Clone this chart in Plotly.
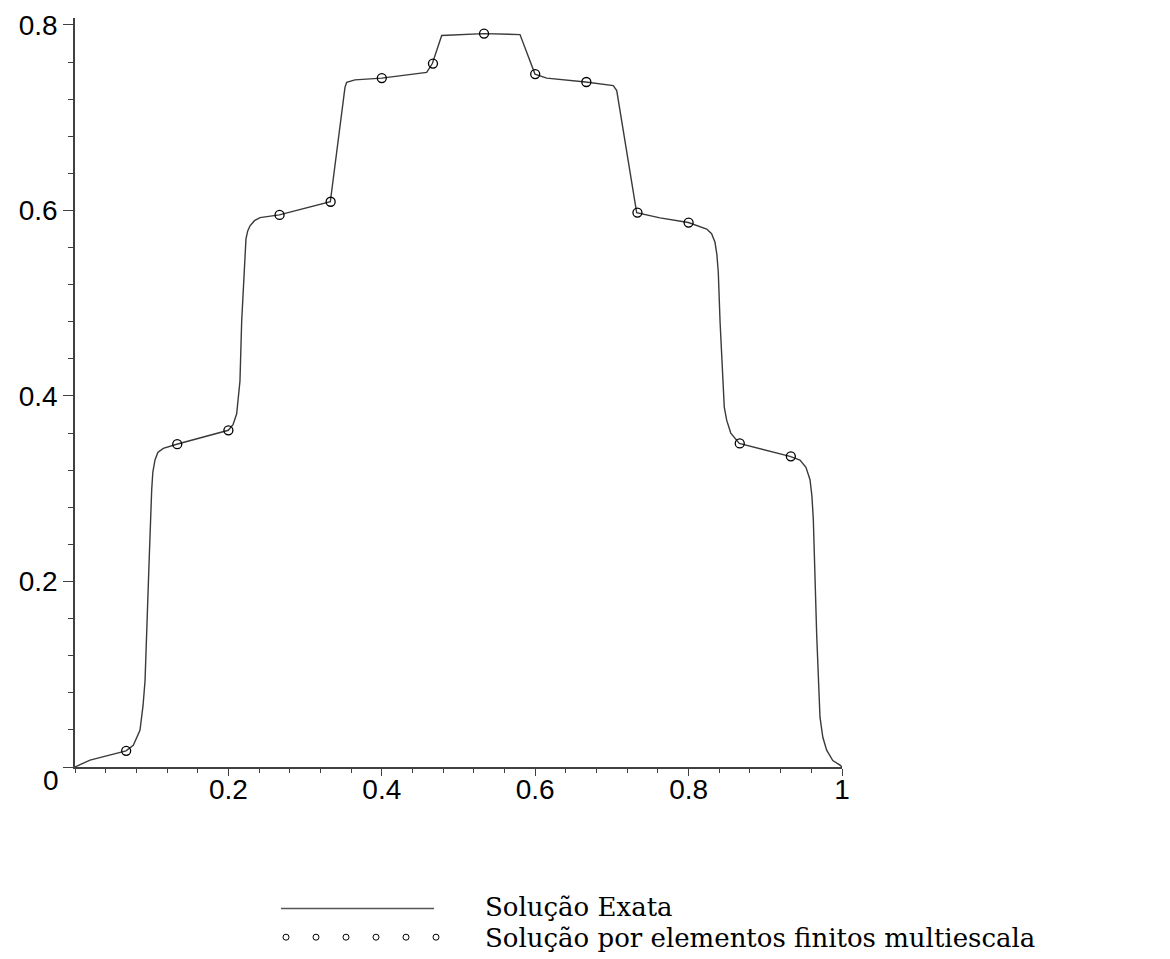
import plotly.graph_objects as go

# Exact solution, sampled along the curve
exact_x = [0.0, 0.0196, 0.0665, 0.076, 0.0847, 0.0887, 0.0913, 0.0935, 0.0969, 0.1000,
           0.1015, 0.1043, 0.108, 0.1151, 0.1326, 0.1999, 0.206, 0.2108, 0.2151, 0.2173,
           0.2229, 0.2252, 0.2282, 0.234, 0.2412, 0.2664, 0.3329, 0.352, 0.3542, 0.365,
           0.3999, 0.4585, 0.4659, 0.4781, 0.5329, 0.5802, 0.5997, 0.615, 0.6658, 0.7018,
           0.7063, 0.7323, 0.7627, 0.7997, 0.8236, 0.830, 0.8344, 0.8368, 0.8387, 0.841,
           0.8445, 0.8465, 0.8497, 0.855, 0.8661, 0.9322, 0.9452, 0.953, 0.9583, 0.9608,
           0.9626, 0.967, 0.9713, 0.975, 0.98, 0.988, 0.9974, 1.0]
exact_y = [0.0, 0.0075, 0.0174, 0.0235, 0.0395, 0.0661, 0.0928, 0.1568, 0.228, 0.299,
           0.318, 0.331, 0.339, 0.3435, 0.348, 0.363, 0.369, 0.3808, 0.4163, 0.4803,
           0.5693, 0.578, 0.5835, 0.589, 0.5923, 0.5952, 0.6094, 0.7328, 0.7381, 0.7408,
           0.7427, 0.7488, 0.7584, 0.7886, 0.7907, 0.7896, 0.747, 0.7427, 0.7385, 0.7346,
           0.7293, 0.5977, 0.592, 0.587, 0.58, 0.575, 0.5657, 0.553, 0.5337, 0.4803,
           0.4093, 0.388, 0.3737, 0.360, 0.3488, 0.3349, 0.331, 0.323, 0.3097, 0.292,
           0.267, 0.1426, 0.0537, 0.032, 0.0181, 0.007, 0.002, 0.0]

# Multiscale finite element solution at the mesh nodes
fem_x = [0.0667, 0.1333, 0.2, 0.2667, 0.3333, 0.4, 0.4667, 0.5333, 0.6, 0.6667,
         0.7333, 0.8, 0.8667, 0.9333]
fem_y = [0.0174, 0.348, 0.363, 0.5952, 0.6094, 0.7427, 0.7584, 0.7907, 0.747, 0.7385,
         0.5977, 0.587, 0.3488, 0.3349]

x_ticks = [0.2, 0.4, 0.6, 0.8, 1.0]
x_labels = ["0.2", "0.4", "0.6", "0.8", "1"]
y_ticks = [0.0, 0.2, 0.4, 0.6, 0.8]
y_labels = ["", "0.2", "0.4", "0.6", "0.8"]

legend_labels = ["Solução Exata", "Solução por elementos finitos multiescala"]

W, H = 1170, 959
ML, MT, PW, PH = 75, 10, 767, 757
AX = "#404040"
TICK_FONT = dict(family="Liberation Sans, Arial, sans-serif", size=28, color="black")
LEG_FONT = dict(family="DejaVu Serif, serif", size=26, color="black")


def paper_x(px):
    return (px - ML) / PW


def paper_y(py):
    return (MT + PH - py) / PH


fig = go.Figure()
fig.add_trace(go.Scatter(x=exact_x, y=exact_y, mode="lines",
                         line=dict(color="#3a3a3a", width=1.4),
                         name=legend_labels[0], showlegend=False))
fig.add_trace(go.Scatter(x=fem_x, y=fem_y, mode="markers",
                         marker=dict(symbol="circle-open", size=9, color="black",
                                     line=dict(width=1.3, color="black")),
                         name=legend_labels[1], showlegend=False))

shapes = [
    # axis continues a little below the origin
    dict(type="line", xref="x", yref="y", x0=0, x1=0, ysizemode="pixel", yanchor=0,
         y0=-15, y1=0, line=dict(color=AX, width=1.6)),
    # legend sample line
    dict(type="line", xref="paper", yref="paper", x0=paper_x(281), x1=paper_x(434),
         y0=paper_y(910), y1=paper_y(910), line=dict(color="#555555", width=1.4)),
]
# legend sample circles
for i in range(6):
    cx = paper_x(286 + 30 * i)
    shapes.append(dict(type="circle", xref="paper", yref="paper", xsizemode="pixel",
                       ysizemode="pixel", xanchor=cx, yanchor=paper_y(939),
                       x0=-3, x1=3, y0=-3, y1=3, line=dict(color="black", width=1)))

annotations = [
    dict(text="0", xref="paper", yref="paper", x=paper_x(61), y=paper_y(781),
         xanchor="right", yanchor="middle", showarrow=False, font=TICK_FONT),
    dict(text=legend_labels[0], xref="paper", yref="paper", x=paper_x(483),
         y=paper_y(908), xanchor="left", yanchor="middle", showarrow=False,
         font=LEG_FONT),
    dict(text=legend_labels[1], xref="paper", yref="paper", x=paper_x(483),
         y=paper_y(940), xanchor="left", yanchor="middle", showarrow=False,
         font=LEG_FONT),
]

fig.update_layout(
    width=W, height=H,
    margin=dict(l=ML, r=W - ML - PW, t=MT, b=H - MT - PH, pad=0),
    paper_bgcolor="white", plot_bgcolor="white",
    shapes=shapes, annotations=annotations,
    xaxis=dict(range=[0, 1], showgrid=False, zeroline=False, showline=True,
               linecolor=AX, linewidth=1.6, ticks="outside", ticklen=7, tickwidth=1.3,
               tickcolor=AX, tickvals=x_ticks, ticktext=x_labels, tickfont=TICK_FONT,
               ticklabelstandoff=-10,
               minor=dict(ticks="outside", dtick=0.04, tick0=0, ticklen=4, tickwidth=1.2,
                          tickcolor=AX, showgrid=False),
               fixedrange=True),
    yaxis=dict(range=[0, 0.8075], showgrid=False, zeroline=False, showline=True,
               linecolor=AX, linewidth=1.6, ticks="outside", ticklen=10, tickwidth=1.3,
               tickcolor=AX, tickvals=y_ticks, ticktext=y_labels, tickfont=TICK_FONT,
               minor=dict(ticks="outside", dtick=0.04, tick0=0, ticklen=5, tickwidth=1.2,
                          tickcolor=AX, showgrid=False),
               fixedrange=True),
)

fig.write_html("out.html")
